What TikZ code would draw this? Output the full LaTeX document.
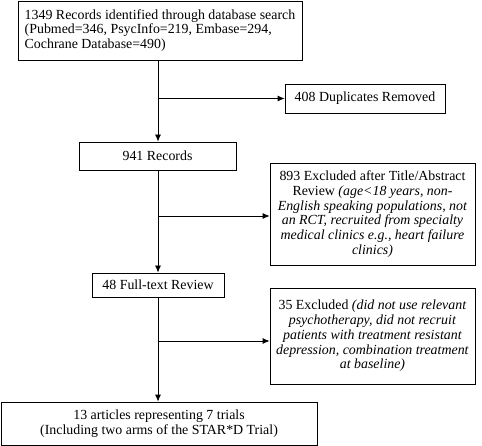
\documentclass[tikz,border=0pt]{standalone}
\usepackage{fontspec}
\setmainfont{Liberation Serif}
\usetikzlibrary{arrows.meta}

\tikzset{
    flow box/.style={
        draw,line width=.8pt,
        inner sep=0pt,
        font=\fontsize{13.9}{14.8}\selectfont,
        align=center
    },
    flow arrow/.style={
        line width=.8pt,
        -{Latex[length=7pt,width=6pt]}
    }
}

\begin{document}
\begin{tikzpicture}[x=1pt,y=1pt]
        \useasboundingbox (0,0) rectangle (482,-446);
        \node[flow box,minimum width=284pt,minimum height=59pt,align=left] (search) at (160,-30.5)
            {1349 Records identified through database search\\(Pubmed=346, PsycInfo=219, Embase=294,\\Cochrane Database=490)};
        \node[flow box,minimum width=160pt,minimum height=29pt] (dup) at (365,-98.5) {408 Duplicates Removed};
        \node[flow box,minimum width=157pt,minimum height=28pt] (records) at (157.5,-156) {941 Records};
        \node[flow box,minimum width=205pt,minimum height=102pt] (titleexcl) at (372.5,-214)
            {893 Excluded after Title/Abstract\\Review \textit{(age<18 years, non-}\\\textit{English speaking populations, not}\\\textit{an RCT, recruited from specialty}\\\textit{medical clinics e.g., heart failure}\\\textit{clinics)}};
        \node[flow box,minimum width=132pt,minimum height=24pt] (fulltext) at (158,-285) {48 Full-text Review};
        \node[flow box,minimum width=205pt,minimum height=96pt] (fullexcl) at (372.5,-336)
            {35 Excluded \textit{(did not use relevant}\\\textit{psychotherapy, did not recruit}\\\textit{patients with treatment resistant}\\\textit{depression, combination treatment}\\\textit{at baseline)}};
        \node[flow box,minimum width=316pt,minimum height=43pt] (trials) at (159,-423.5)
            {13 articles representing 7 trials\\(Including two arms of the STAR*D Trial)};
        % main line and side branches
        \coordinate (spine) at (158,0);
        \coordinate (b1) at (158,-98.5);
        \coordinate (b2) at (158,-216);
        \coordinate (b3) at (158,-341);
        \draw[flow arrow] (search.south -| spine) -- (records.north -| spine);
        \draw[flow arrow] (records.south -| spine) -- (fulltext.north -| spine);
        \draw[flow arrow] (fulltext.south -| spine) -- (trials.north -| spine);
        \draw[flow arrow] (b1) -- (dup.west);
        \draw[flow arrow] (b2) -- (titleexcl.west |- b2);
        \draw[flow arrow] (b3) -- (fullexcl.west |- b3);
\end{tikzpicture}
\end{document}
